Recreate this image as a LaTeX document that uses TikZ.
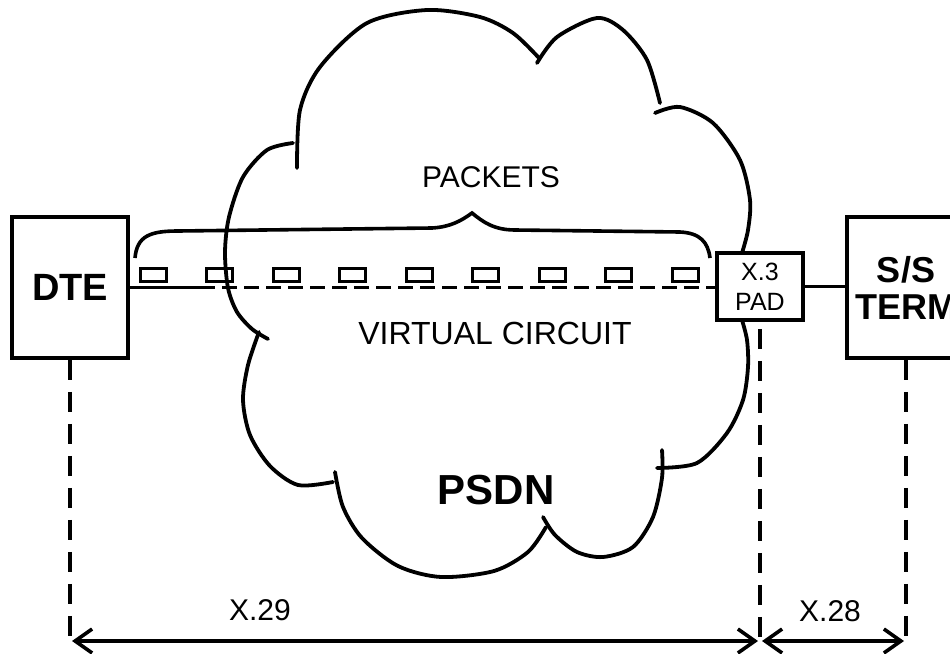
\documentclass[tikz,border=0pt]{standalone}
\usepackage{fontspec}
\setmainfont{Liberation Sans}
\usetikzlibrary{positioning,arrows.meta}

\begin{document}
\begin{tikzpicture}[
		x=1pt, y=-1pt,
		line width=3.6pt,
		box/.style = {draw, fill=white, inner sep=0pt, align=center},
		packet/.style = {draw, line width=3pt, minimum width=26pt, minimum height=13pt, inner sep=0pt},
		cloud/.style = {line width=3.8pt, line cap=round},
		guide/.style = {dash pattern=on 20pt off 12pt},
		vc/.style = {dash pattern=on 15pt off 7pt},
		dim/.style = {{Straight Barb[length=17pt,width=24pt]}-{Straight Barb[length=17pt,width=24pt]}, shorten <=2pt, shorten >=2pt},
		lbl/.style = {inner sep=0pt, font=\fontsize{30}{30}\selectfont}
	]
	\useasboundingbox (0,0) rectangle (950,653);
	\clip (0,0) rectangle (950,653);
	% The network cloud.
	\draw[cloud] plot[smooth] coordinates {(293,143) (267,150) (243,177) (229,217) (225,252) (228,288) (237,312) (252,329) (268,339)};
	\draw[cloud] plot[smooth] coordinates {(259,332) (248,365) (243,400) (250,435) (270,466) (298,485) (333,482)};
	\draw[cloud] plot[smooth] coordinates {(335,472) (343,507) (362,538) (398,566) (441,577) (494,571) (528,552) (546,527)};
	\draw[cloud] plot[smooth] coordinates {(543,517) (555,535) (577,552) (603,557) (633,547) (653,517) (662,478) (662,450)};
	\draw[cloud] plot[smooth] coordinates {(657,468) (697,463) (727,433) (743,400) (748,367) (747,340) (742,320)};
	\draw[cloud] plot[smooth] coordinates {(742,253) (748,230) (750,200) (740,160) (713,123) (680,107) (655,113)};
	\draw[cloud] plot[smooth] coordinates {(660,103) (647,60) (623,30) (597,18) (557,37) (537,63)};
	\draw[cloud] plot[smooth] coordinates {(539,58) (513,33) (480,17) (427,10) (367,23) (320,67) (300,110) (297,168)};
	% End points.
	\node[box, minimum width=116pt, minimum height=141pt, font=\bfseries\fontsize{38}{38}\selectfont] (dte) at (70,287.5) {DTE};
	\node[box, minimum width=86pt, minimum height=67pt, font=\fontsize{25}{30}\selectfont] (pad) at (760,286.5) {X.3\\PAD};
	\node[box, minimum width=118pt, minimum height=141pt, font=\bfseries\fontsize{36}{37}\selectfont] (term) at (906,287.5) {S/S\\TERM};
	% Virtual circuit.
	\coordinate (vcstart) at (200,287.5);
	\draw (dte.east) -- (vcstart);
	\draw[vc] (vcstart) -- (vcstart -| pad.west);
	\draw (pad.east) -- (pad.east -| term.west);
	\foreach \i in {0,...,8}
		\node[packet] (p\i) at (153+66.5*\i,274.5) {};
	\draw (135,258) .. controls (137,236) and (150,231) .. (178,231) -- (432,228)
		.. controls (450,227) and (461,221) .. (472,213)
		.. controls (483,222) and (494,230) .. (515,230) -- (680,232)
		.. controls (700,233) and (708,242) .. (710,258);
	% Labels.
	\node[lbl] (packets) at (491,177) {PACKETS};
	\node[lbl, font=\fontsize{32}{32}\selectfont] (circuit) at (495,333.5) {VIRTUAL CIRCUIT};
	\node[lbl, font=\bfseries\fontsize{42}{42}\selectfont] (psdn) at (496,490) {PSDN};
	% Interfaces.
	\coordinate (dtefoot) at (dte.south |- 0,641);
	\coordinate (padfoot) at (pad.south |- 0,641);
	\coordinate (termfoot) at (term.south |- 0,641);
	\draw[guide] (dte.south) -- ([yshift=-3pt]dtefoot);
	\draw[guide] ([yshift=-7pt]pad.south) -- ([yshift=-3pt]padfoot);
	\draw[guide] (term.south) -- ([yshift=-3pt]termfoot);
	\draw[dim] (dtefoot) -- (padfoot);
	\draw[dim] (padfoot) -- (termfoot);
	\node[lbl] (x29) at (260,610) {X.29};
	\node[lbl] (x28) at (830,611) {X.28};
\end{tikzpicture}
\end{document}
